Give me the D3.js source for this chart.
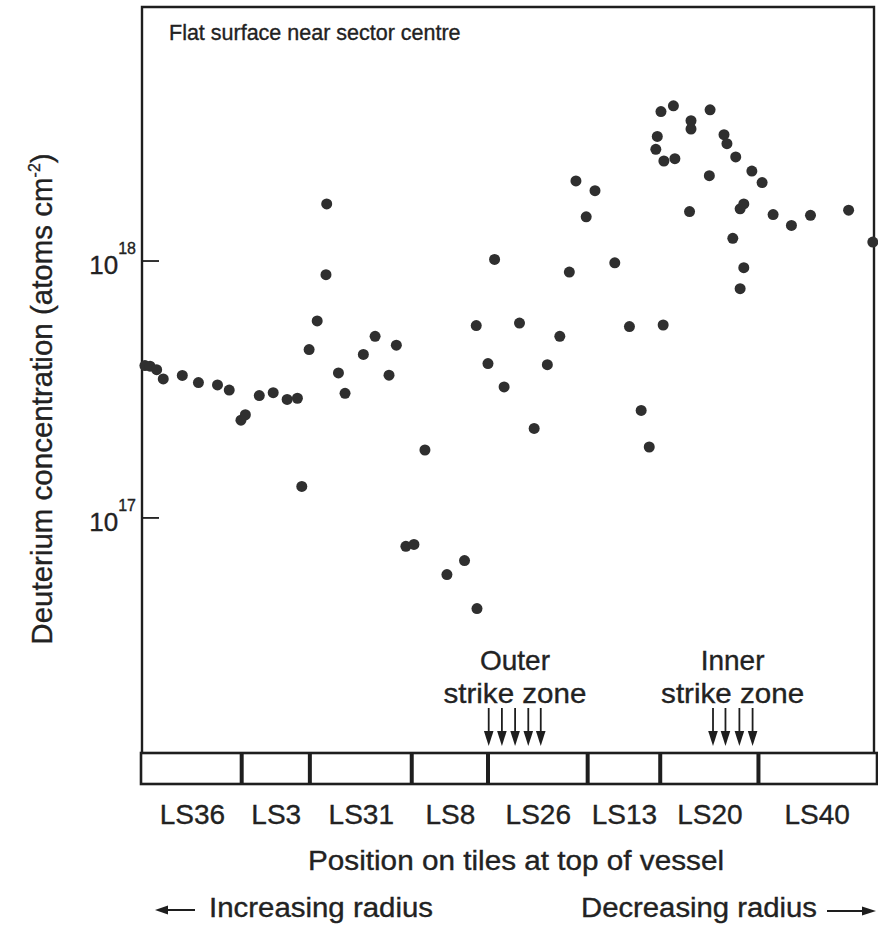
<!DOCTYPE html>
<html>
<head>
<meta charset="utf-8">
<script src="https://cdn.jsdelivr.net/npm/d3@7"></script>
<style>
  body { margin: 0; background: #fff; }
  svg { display: block; }
  text { font-family: "Liberation Sans", Arial, Helvetica, sans-serif; fill: #222; stroke: #222; stroke-width: 0.35px; }
</style>
</head>
<body>
<svg id="chart" width="878" height="933"></svg>
<script>
// Position along the tile row (0 = left end, 100 = right end)
const positions = [
  0.4, 1.1, 2.0, 2.9, 5.5, 7.7, 10.3, 11.9, 13.5, 14.1,
  16.0, 17.9, 19.8, 21.2, 21.8, 22.8, 23.9, 25.1, 25.2, 26.8,
  27.7, 30.2, 31.8, 34.7, 33.7, 38.6, 36.0, 37.1, 41.6, 44.0,
  45.7, 45.6, 47.2, 48.1, 49.4, 51.5, 53.5, 55.3, 57.0, 58.3,
  59.2, 60.6, 61.8, 64.5, 66.5, 68.1, 69.2, 71.1, 70.8, 72.5,
  70.3, 70.1, 71.2, 72.7, 74.7, 74.9, 74.9, 77.5, 77.4, 79.4,
  79.8, 81.0, 80.6, 81.6, 82.1, 82.1, 81.6, 83.2, 84.6, 86.1,
  88.6, 91.2, 96.4, 99.7
];
// Deuterium concentration, atoms cm^-2
const concentrations = [
  3.90e17, 3.88e17, 3.76e17, 3.46e17, 3.57e17, 3.35e17, 3.28e17, 3.13e17, 2.39e17, 2.51e17,
  2.98e17, 3.06e17, 2.88e17, 2.91e17, 1.32e17, 4.50e17, 5.82e17, 8.81e17, 1.66e18, 3.65e17,
  3.04e17, 4.31e17, 5.07e17, 4.68e17, 3.58e17, 1.83e17, 7.72e16, 7.85e16, 5.99e16, 6.79e16,
  4.42e16, 5.58e17, 3.97e17, 1.01e18, 3.22e17, 5.71e17, 2.22e17, 3.93e17, 5.07e17, 9.02e17,
  2.04e18, 1.48e18, 1.87e18, 9.80e17, 5.53e17, 2.61e17, 1.88e17, 5.61e17, 3.80e18, 4.00e18,
  3.04e18, 2.71e18, 2.44e18, 2.49e18, 1.55e18, 3.50e18, 3.25e18, 3.86e18, 2.14e18, 3.09e18,
  2.85e18, 2.53e18, 1.22e18, 1.59e18, 1.66e18, 9.38e17, 7.77e17, 2.23e18, 2.01e18, 1.51e18,
  1.37e18, 1.50e18, 1.57e18, 1.18e18
];
const tileNames = ["LS36", "LS3", "LS31", "LS8", "LS26", "LS13", "LS20", "LS40"];
const tileEdges = [0, 13.6, 22.9, 36.8, 47.2, 60.8, 70.7, 84.1, 100];
const outerStrikeArrows = [47.3, 49.1, 50.9, 52.7, 54.4];
const innerStrikeArrows = [77.9, 79.6, 81.5, 83.3];
const yTickValues = [1e17, 1e18];
const yTickExponents = ["17", "18"];
const yDomain = [1.2e16, 9.7e18];

const svg = d3.select("#chart");
const ink = "#1e1e1e";

const plotLeft = 142, plotRight = 875, plotTop = 7, plotBottom = 754;
const tileTop = 753, tileBottom = 784;

const x = d3.scaleLinear().domain([0, 100]).range([plotLeft, plotRight]);
const y = d3.scaleLog().domain(yDomain).range([plotBottom, plotTop]);

// Plot frame (left, top, right)
svg.append("path")
  .attr("d", `M${plotLeft},${plotBottom} V${plotTop} H${plotRight - 1} V${plotBottom}`)
  .attr("fill", "none").attr("stroke", ink).attr("stroke-width", 2.4);

// Y axis with inward ticks and power-of-ten labels
const yAxis = svg.append("g")
  .attr("transform", `translate(${plotLeft},0)`)
  .call(d3.axisLeft(y).tickValues(yTickValues).tickSize(-17).tickPadding(6).tickFormat(() => ""));
yAxis.select(".domain").remove();
yAxis.selectAll(".tick line").attr("stroke", ink).attr("stroke-width", 1.8);
yAxis.selectAll(".tick text").each(function (d, i) {
  const t = d3.select(this).attr("dy", null).attr("y", 13).attr("fill", "#222");
  t.append("tspan").attr("font-size", 26).text("10");
  t.append("tspan").attr("font-size", 16).attr("dy", -20).text(yTickExponents[i]);
});

// Y axis title
const yTitle = svg.append("text")
  .attr("transform", "translate(52,399) rotate(-90)")
  .attr("text-anchor", "middle")
  .attr("font-size", 29.5);
yTitle.append("tspan").text("Deuterium concentration (atoms cm");
yTitle.append("tspan").attr("font-size", 16).attr("dy", -12).text("-2");
yTitle.append("tspan").attr("dy", 12).text(")");

// Panel label
svg.append("text").attr("x", 169).attr("y", 40).attr("font-size", 21.5)
  .text("Flat surface near sector centre");

// Tile row under the plot
svg.append("rect")
  .attr("x", x(tileEdges[0]) - 1).attr("y", tileTop)
  .attr("width", x(tileEdges[tileEdges.length - 1]) - x(tileEdges[0]) + 3)
  .attr("height", tileBottom - tileTop)
  .attr("fill", "none").attr("stroke", ink).attr("stroke-width", 2.6);
svg.append("g").selectAll("line")
  .data(tileEdges.slice(1, -1))
  .join("line")
  .attr("x1", d => x(d)).attr("x2", d => x(d))
  .attr("y1", tileTop).attr("y2", tileBottom)
  .attr("stroke", ink).attr("stroke-width", 4);

// Tile names as bottom axis labels
const tileCentres = tileNames.map((n, i) => (tileEdges[i] + tileEdges[i + 1]) / 2);
const xAxis = svg.append("g")
  .attr("transform", `translate(0,${tileBottom})`)
  .call(d3.axisBottom(x).tickValues(tileCentres).tickSize(0).tickPadding(20)
    .tickFormat((d, i) => tileNames[i]));
xAxis.select(".domain").remove();
xAxis.selectAll(".tick text").attr("font-size", 28).attr("fill", "#222")
  .attr("font-family", "'Liberation Sans', Arial, sans-serif");

// Strike zone arrows and labels
function zoneArrows(list, label) {
  const g = svg.append("g");
  g.selectAll("line").data(list).join("line")
    .attr("x1", d => x(d)).attr("x2", d => x(d))
    .attr("y1", 708).attr("y2", 734)
    .attr("stroke", ink).attr("stroke-width", 1.8);
  g.selectAll("path").data(list).join("path")
    .attr("d", d => `M${x(d) - 4.8},731 L${x(d) + 4.8},731 L${x(d)},746 Z`)
    .attr("fill", ink);
  const cx = x(d3.mean(list));
  g.append("text").attr("x", cx).attr("y", 670).attr("text-anchor", "middle")
    .attr("font-size", 28).text(label);
  g.append("text").attr("x", cx).attr("y", 703).attr("text-anchor", "middle")
    .attr("font-size", 28).attr("textLength", 143).attr("lengthAdjust", "spacingAndGlyphs")
    .text("strike zone");
}
zoneArrows(outerStrikeArrows, "Outer");
zoneArrows(innerStrikeArrows, "Inner");

// X axis title
svg.append("text").attr("x", 516).attr("y", 870).attr("text-anchor", "middle")
  .attr("font-size", 27).attr("textLength", 416).attr("lengthAdjust", "spacingAndGlyphs")
  .text("Position on tiles at top of vessel");

// Direction notes
svg.append("text").attr("x", 209).attr("y", 917).attr("font-size", 27)
  .attr("textLength", 224).attr("lengthAdjust", "spacingAndGlyphs")
  .text("Increasing radius");
svg.append("line").attr("x1", 164).attr("x2", 195).attr("y1", 910).attr("y2", 910)
  .attr("stroke", ink).attr("stroke-width", 2);
svg.append("path").attr("d", "M155,910 L168,905.5 L168,914.5 Z").attr("fill", ink);

svg.append("text").attr("x", 581).attr("y", 917).attr("font-size", 27)
  .attr("textLength", 236).attr("lengthAdjust", "spacingAndGlyphs")
  .text("Decreasing radius");
svg.append("line").attr("x1", 827).attr("x2", 864).attr("y1", 911).attr("y2", 911)
  .attr("stroke", ink).attr("stroke-width", 2);
svg.append("path").attr("d", "M876,911 L862,906.5 L862,915.5 Z").attr("fill", ink);

// Measured points
svg.append("g").selectAll("circle")
  .data(positions.map((p, i) => ({ p, c: concentrations[i] })))
  .join("circle")
  .attr("cx", d => x(d.p))
  .attr("cy", d => y(d.c))
  .attr("r", 5.5)
  .attr("fill", "#2f2f2f");
</script>
</body>
</html>
